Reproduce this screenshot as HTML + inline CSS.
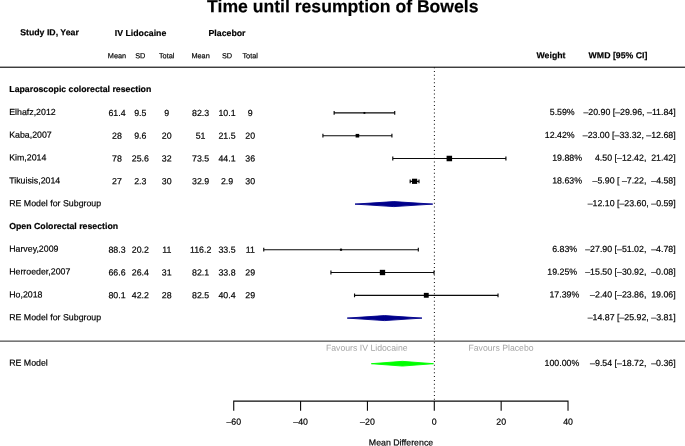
<!DOCTYPE html>
<html><head><meta charset="utf-8"><title>Forest plot</title>
<style>
html,body{margin:0;padding:0;background:#fff;}
svg{display:block;font-family:"Liberation Sans",sans-serif;fill:#000;}
text{white-space:pre;text-rendering:geometricPrecision;stroke:#000;stroke-width:0.18px;}
.b{font-weight:bold;font-size:17.6px;}
.t{font-size:8.8px;}
.h{font-size:8.75px;font-weight:bold;}
.s{font-size:7.35px;}
.g{fill:#a4a4a4;stroke:none;font-size:8.7px;}
</style></head><body>
<svg width="685" height="446" viewBox="0 0 685 446">
<rect width="685" height="446" fill="#fff"/>

<text transform="translate(342.80,12.25) matrix(1 0.0005 0 1 0 0)" class="b" text-anchor="middle">Time until resumption of Bowels</text>
<text transform="translate(49.50,35.25) matrix(1 0.0005 0 1 0 0)" class="h" text-anchor="middle">Study ID, Year</text>
<text transform="translate(140.50,36.00) matrix(1 0.0005 0 1 0 0)" class="h" text-anchor="middle">IV Lidocaine</text>
<text transform="translate(227.00,36.00) matrix(1 0.0005 0 1 0 0)" class="h" text-anchor="middle">Placebor</text>
<text transform="translate(551.00,58.25) matrix(1 0.0005 0 1 0 0)" class="h" text-anchor="middle">Weight</text>
<text transform="translate(618.00,58.25) matrix(1 0.0005 0 1 0 0)" class="h" text-anchor="middle">WMD [95% CI]</text>
<text transform="translate(117.00,58.25) matrix(1 0.0005 0 1 0 0)" class="s" text-anchor="middle">Mean</text>
<text transform="translate(140.30,58.25) matrix(1 0.0005 0 1 0 0)" class="s" text-anchor="middle">SD</text>
<text transform="translate(166.70,58.25) matrix(1 0.0005 0 1 0 0)" class="s" text-anchor="middle">Total</text>
<text transform="translate(200.60,58.25) matrix(1 0.0005 0 1 0 0)" class="s" text-anchor="middle">Mean</text>
<text transform="translate(227.00,58.25) matrix(1 0.0005 0 1 0 0)" class="s" text-anchor="middle">SD</text>
<text transform="translate(250.20,58.25) matrix(1 0.0005 0 1 0 0)" class="s" text-anchor="middle">Total</text>
<rect x="0" y="66.6" width="685" height="1.3" fill="#2a2a2a"/>
<rect x="0" y="340.5" width="685" height="1.3" fill="#555"/>
<line x1="434.4" y1="67.23" x2="434.4" y2="400.6" stroke="#111" stroke-width="1.05" stroke-dasharray="1,2.767"/>
<text transform="translate(9.30,92.00) matrix(1 0.0005 0 1 0 0)" class="h">Laparoscopic colorectal resection</text>
<text transform="translate(9.20,115.00) matrix(1 0.0005 0 1 0 0)" class="t">Elhafz,2012</text>
<text transform="translate(117.00,116.00) matrix(1 0.0005 0 1 0 0)" class="t" text-anchor="middle">61.4</text>
<text transform="translate(140.30,116.00) matrix(1 0.0005 0 1 0 0)" class="t" text-anchor="middle">9.5</text>
<text transform="translate(166.70,116.00) matrix(1 0.0005 0 1 0 0)" class="t" text-anchor="middle">9</text>
<text transform="translate(200.60,116.00) matrix(1 0.0005 0 1 0 0)" class="t" text-anchor="middle">82.3</text>
<text transform="translate(227.00,116.00) matrix(1 0.0005 0 1 0 0)" class="t" text-anchor="middle">10.1</text>
<text transform="translate(250.20,116.00) matrix(1 0.0005 0 1 0 0)" class="t" text-anchor="middle">9</text>
<text transform="translate(574.70,115.00) matrix(1 0.0005 0 1 0 0)" class="t" text-anchor="end">5.59%</text>
<text transform="translate(675.70,115.00) matrix(1 0.0005 0 1 0 0)" class="t" text-anchor="end">–20.90 [–29.96, –11.84]</text>
<path d="M334.14,112.90 H394.72 M334.14,111.00 v3.8 M394.72,111.00 v3.8" fill="none" stroke="#0a0a0a" stroke-width="1.15"/>
<rect x="363.51" y="111.98" width="1.83" height="1.83" fill="#000"/>
<text transform="translate(9.20,137.75) matrix(1 0.0005 0 1 0 0)" class="t">Kaba,2007</text>
<text transform="translate(117.00,138.75) matrix(1 0.0005 0 1 0 0)" class="t" text-anchor="middle">28</text>
<text transform="translate(140.30,138.75) matrix(1 0.0005 0 1 0 0)" class="t" text-anchor="middle">9.6</text>
<text transform="translate(166.70,138.75) matrix(1 0.0005 0 1 0 0)" class="t" text-anchor="middle">20</text>
<text transform="translate(200.60,138.75) matrix(1 0.0005 0 1 0 0)" class="t" text-anchor="middle">51</text>
<text transform="translate(227.00,138.75) matrix(1 0.0005 0 1 0 0)" class="t" text-anchor="middle">21.5</text>
<text transform="translate(250.20,138.75) matrix(1 0.0005 0 1 0 0)" class="t" text-anchor="middle">20</text>
<text transform="translate(574.70,138.00) matrix(1 0.0005 0 1 0 0)" class="t" text-anchor="end">12.42%</text>
<text transform="translate(675.70,138.00) matrix(1 0.0005 0 1 0 0)" class="t" text-anchor="end">–23.00 [–33.32, –12.68]</text>
<path d="M322.91,135.70 H391.91 M322.91,133.80 v3.8 M391.91,133.80 v3.8" fill="none" stroke="#0a0a0a" stroke-width="1.15"/>
<rect x="355.62" y="133.91" width="3.59" height="3.59" fill="#000"/>
<text transform="translate(9.20,160.50) matrix(1 0.0005 0 1 0 0)" class="t">Kim,2014</text>
<text transform="translate(117.00,161.50) matrix(1 0.0005 0 1 0 0)" class="t" text-anchor="middle">78</text>
<text transform="translate(140.30,161.50) matrix(1 0.0005 0 1 0 0)" class="t" text-anchor="middle">25.6</text>
<text transform="translate(166.70,161.50) matrix(1 0.0005 0 1 0 0)" class="t" text-anchor="middle">32</text>
<text transform="translate(200.60,161.50) matrix(1 0.0005 0 1 0 0)" class="t" text-anchor="middle">73.5</text>
<text transform="translate(227.00,161.50) matrix(1 0.0005 0 1 0 0)" class="t" text-anchor="middle">44.1</text>
<text transform="translate(250.20,161.50) matrix(1 0.0005 0 1 0 0)" class="t" text-anchor="middle">36</text>
<text transform="translate(582.00,160.75) matrix(1 0.0005 0 1 0 0)" class="t" text-anchor="end">19.88%</text>
<text transform="translate(675.70,160.75) matrix(1 0.0005 0 1 0 0)" class="t" text-anchor="end">4.50 [–12.42,  21.42]</text>
<path d="M392.78,158.50 H505.91 M392.78,156.60 v3.8 M505.91,156.60 v3.8" fill="none" stroke="#0a0a0a" stroke-width="1.15"/>
<rect x="446.59" y="155.75" width="5.50" height="5.50" fill="#000"/>
<text transform="translate(9.20,183.50) matrix(1 0.0005 0 1 0 0)" class="t">Tikuisis,2014</text>
<text transform="translate(117.00,184.25) matrix(1 0.0005 0 1 0 0)" class="t" text-anchor="middle">27</text>
<text transform="translate(140.30,184.25) matrix(1 0.0005 0 1 0 0)" class="t" text-anchor="middle">2.3</text>
<text transform="translate(166.70,184.25) matrix(1 0.0005 0 1 0 0)" class="t" text-anchor="middle">30</text>
<text transform="translate(200.60,184.25) matrix(1 0.0005 0 1 0 0)" class="t" text-anchor="middle">32.9</text>
<text transform="translate(227.00,184.25) matrix(1 0.0005 0 1 0 0)" class="t" text-anchor="middle">2.9</text>
<text transform="translate(250.20,184.25) matrix(1 0.0005 0 1 0 0)" class="t" text-anchor="middle">30</text>
<text transform="translate(582.00,183.50) matrix(1 0.0005 0 1 0 0)" class="t" text-anchor="end">18.63%</text>
<text transform="translate(675.70,183.50) matrix(1 0.0005 0 1 0 0)" class="t" text-anchor="end">–5.90 [ –7.22,  –4.58]</text>
<path d="M410.16,181.30 H418.99 M410.16,179.40 v3.8 M418.99,179.40 v3.8" fill="none" stroke="#0a0a0a" stroke-width="1.15"/>
<rect x="411.99" y="178.71" width="5.18" height="5.18" fill="#000"/>
<text transform="translate(9.20,251.75) matrix(1 0.0005 0 1 0 0)" class="t">Harvey,2009</text>
<text transform="translate(117.00,252.75) matrix(1 0.0005 0 1 0 0)" class="t" text-anchor="middle">88.3</text>
<text transform="translate(140.30,252.75) matrix(1 0.0005 0 1 0 0)" class="t" text-anchor="middle">20.2</text>
<text transform="translate(166.70,252.75) matrix(1 0.0005 0 1 0 0)" class="t" text-anchor="middle">11</text>
<text transform="translate(200.60,252.75) matrix(1 0.0005 0 1 0 0)" class="t" text-anchor="middle">116.2</text>
<text transform="translate(227.00,252.75) matrix(1 0.0005 0 1 0 0)" class="t" text-anchor="middle">33.5</text>
<text transform="translate(250.20,252.75) matrix(1 0.0005 0 1 0 0)" class="t" text-anchor="middle">11</text>
<text transform="translate(577.10,252.00) matrix(1 0.0005 0 1 0 0)" class="t" text-anchor="end">6.83%</text>
<text transform="translate(675.70,252.00) matrix(1 0.0005 0 1 0 0)" class="t" text-anchor="end">–27.90 [–51.02,  –4.78]</text>
<path d="M263.74,249.70 H418.32 M263.74,247.80 v3.8 M418.32,247.80 v3.8" fill="none" stroke="#0a0a0a" stroke-width="1.15"/>
<rect x="339.95" y="248.62" width="2.15" height="2.15" fill="#000"/>
<text transform="translate(9.20,274.50) matrix(1 0.0005 0 1 0 0)" class="t">Herroeder,2007</text>
<text transform="translate(117.00,275.50) matrix(1 0.0005 0 1 0 0)" class="t" text-anchor="middle">66.6</text>
<text transform="translate(140.30,275.50) matrix(1 0.0005 0 1 0 0)" class="t" text-anchor="middle">26.4</text>
<text transform="translate(166.70,275.50) matrix(1 0.0005 0 1 0 0)" class="t" text-anchor="middle">31</text>
<text transform="translate(200.60,275.50) matrix(1 0.0005 0 1 0 0)" class="t" text-anchor="middle">82.1</text>
<text transform="translate(227.00,275.50) matrix(1 0.0005 0 1 0 0)" class="t" text-anchor="middle">33.8</text>
<text transform="translate(250.20,275.50) matrix(1 0.0005 0 1 0 0)" class="t" text-anchor="middle">29</text>
<text transform="translate(577.10,274.75) matrix(1 0.0005 0 1 0 0)" class="t" text-anchor="end">19.25%</text>
<text transform="translate(675.70,274.75) matrix(1 0.0005 0 1 0 0)" class="t" text-anchor="end">–15.50 [–30.92,  –0.08]</text>
<path d="M330.93,272.50 H434.03 M330.93,270.60 v3.8 M434.03,270.60 v3.8" fill="none" stroke="#0a0a0a" stroke-width="1.15"/>
<rect x="379.81" y="269.83" width="5.34" height="5.34" fill="#000"/>
<text transform="translate(9.20,297.50) matrix(1 0.0005 0 1 0 0)" class="t">Ho,2018</text>
<text transform="translate(117.00,298.25) matrix(1 0.0005 0 1 0 0)" class="t" text-anchor="middle">80.1</text>
<text transform="translate(140.30,298.25) matrix(1 0.0005 0 1 0 0)" class="t" text-anchor="middle">42.2</text>
<text transform="translate(166.70,298.25) matrix(1 0.0005 0 1 0 0)" class="t" text-anchor="middle">28</text>
<text transform="translate(200.60,298.25) matrix(1 0.0005 0 1 0 0)" class="t" text-anchor="middle">82.5</text>
<text transform="translate(227.00,298.25) matrix(1 0.0005 0 1 0 0)" class="t" text-anchor="middle">40.4</text>
<text transform="translate(250.20,298.25) matrix(1 0.0005 0 1 0 0)" class="t" text-anchor="middle">29</text>
<text transform="translate(579.30,297.50) matrix(1 0.0005 0 1 0 0)" class="t" text-anchor="end">17.39%</text>
<text transform="translate(675.70,297.50) matrix(1 0.0005 0 1 0 0)" class="t" text-anchor="end">–2.40 [–23.86,  19.06]</text>
<path d="M354.54,295.30 H498.02 M354.54,293.40 v3.8 M498.02,293.40 v3.8" fill="none" stroke="#0a0a0a" stroke-width="1.15"/>
<rect x="423.85" y="292.87" width="4.86" height="4.86" fill="#000"/>
<text transform="translate(9.20,206.25) matrix(1 0.0005 0 1 0 0)" class="t">RE Model for Subgroup</text>
<text transform="translate(675.70,206.25) matrix(1 0.0005 0 1 0 0)" class="t" text-anchor="end">–12.10 [–23.60, –0.59]</text>
<polygon points="355.01,204.10 393.85,201.60 432.73,204.10 393.85,206.60" fill="#00008b" stroke="#00008b" stroke-width="0.9" stroke-linejoin="miter"/>
<text transform="translate(9.20,229.00) matrix(1 0.0005 0 1 0 0)" class="h">Open Colorectal resection</text>
<text transform="translate(9.20,320.25) matrix(1 0.0005 0 1 0 0)" class="t">RE Model for Subgroup</text>
<text transform="translate(675.70,320.25) matrix(1 0.0005 0 1 0 0)" class="t" text-anchor="end">–14.87 [–25.92, –3.81]</text>
<polygon points="347.25,318.10 384.59,315.60 421.96,318.10 384.59,320.60" fill="#00008b" stroke="#00008b" stroke-width="0.9" stroke-linejoin="miter"/>
<text transform="translate(9.20,365.75) matrix(1 0.0005 0 1 0 0)" class="t">RE Model</text>
<text transform="translate(579.30,366.00) matrix(1 0.0005 0 1 0 0)" class="t" text-anchor="end">100.00%</text>
<text transform="translate(675.70,366.00) matrix(1 0.0005 0 1 0 0)" class="t" text-anchor="end">–9.54 [–18.72,  –0.36]</text>
<polygon points="371.32,363.70 402.41,361.35 433.50,363.70 402.41,366.05" fill="#00ff00" stroke="#00ff00" stroke-width="0.9" stroke-linejoin="miter"/>
<text transform="translate(407.60,350.75) matrix(1 0.0005 0 1 0 0)" class="g" text-anchor="end">Favours IV Lidocaine</text>
<text transform="translate(468.40,350.75) matrix(1 0.0005 0 1 0 0)" class="g">Favours Placebo</text>
<path d="M233.72,410.70000000000005 V401.1 H568.02 V410.70000000000005" fill="none" stroke="#0a0a0a" stroke-width="1.1"/>
<path d="M300.58,401.1 v9.6 M367.44,401.1 v9.6 M434.30,401.1 v9.6 M501.16,401.1 v9.6 " fill="none" stroke="#0a0a0a" stroke-width="1.1"/>
<text transform="translate(233.72,424.75) matrix(1 0.0005 0 1 0 0)" class="t" text-anchor="middle">–60</text>
<text transform="translate(300.58,424.75) matrix(1 0.0005 0 1 0 0)" class="t" text-anchor="middle">–40</text>
<text transform="translate(367.44,424.75) matrix(1 0.0005 0 1 0 0)" class="t" text-anchor="middle">–20</text>
<text transform="translate(434.30,424.75) matrix(1 0.0005 0 1 0 0)" class="t" text-anchor="middle">0</text>
<text transform="translate(501.16,424.75) matrix(1 0.0005 0 1 0 0)" class="t" text-anchor="middle">20</text>
<text transform="translate(568.02,424.75) matrix(1 0.0005 0 1 0 0)" class="t" text-anchor="middle">40</text>
<text transform="translate(401.00,445.50) matrix(1 0.0005 0 1 0 0)" class="t" text-anchor="middle">Mean Difference</text>
</svg></body></html>
